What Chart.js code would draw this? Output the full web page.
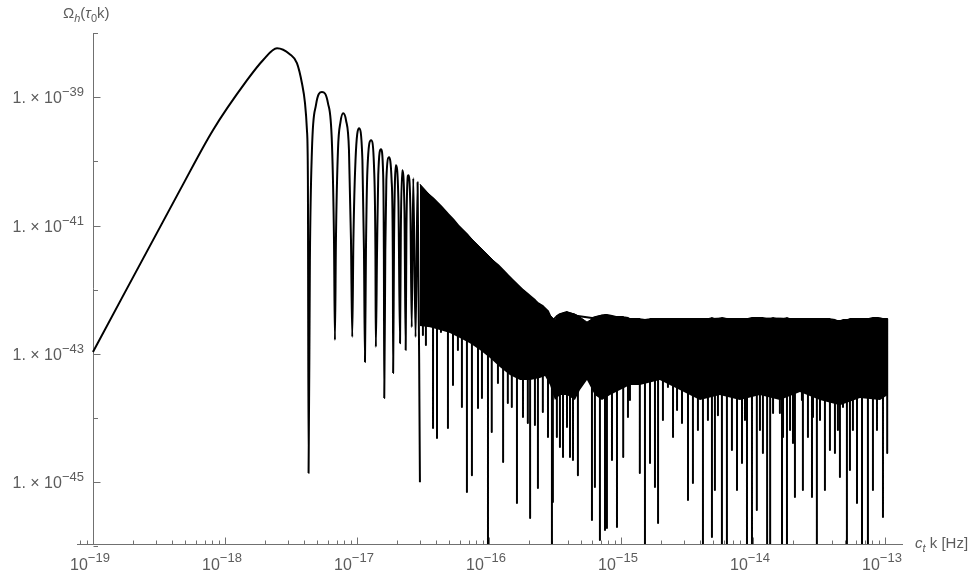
<!DOCTYPE html>
<html>
<head>
<meta charset="utf-8">
<script src="https://cdn.jsdelivr.net/npm/chart.js"></script>
<style>
  body { margin: 0; background: #fff; }
  canvas { display: block; }
</style>
</head>
<body>
<canvas id="graph" width="976" height="577"></canvas>
<script>
// resolved part of the curve: rise, main peak and the first lobes
const curveX = [1.0e-19, 4.56e-19, 8.11e-19, 1.47e-18, 1.94e-18, 2.48e-18, 3.10e-18, 3.51e-18, 3.83e-18, 4.04e-18, 4.18e-18, 4.25e-18, 4.30e-18,
  4.40e-18, 4.56e-18, 4.89e-18, 5.43e-18, 6.03e-18, 6.47e-18, 6.70e-18, 6.81e-18,
  6.93e-18, 7.18e-18, 7.50e-18, 7.87e-18, 8.26e-18, 8.70e-18, 9.01e-18, 9.21e-18,
  9.40e-18, 9.75e-18, 1.035e-17, 1.10e-17, 1.13e-17, 1.15e-17,
  1.17e-17, 1.20e-17, 1.28e-17, 1.35e-17, 1.38e-17, 1.39e-17,
  1.42e-17, 1.45e-17, 1.52e-17, 1.58e-17, 1.60e-17, 1.61e-17,
  1.64e-17, 1.67e-17, 1.75e-17, 1.83e-17, 1.87e-17, 1.88e-17,
  1.91e-17, 1.97e-17, 2.06e-17, 2.12e-17,
  2.15e-17, 2.20e-17, 2.29e-17, 2.34e-17,
  2.37e-17, 2.45e-17, 2.54e-17, 2.60e-17,
  2.67e-17, 2.78e-17, 2.88e-17, 3.00e-17];
const curveY = [1.07e-43, 3.56e-41, 3.06e-40, 1.84e-39, 3.77e-39, 5.79e-39, 4.68e-39, 3.39e-39, 1.65e-39, 8.07e-40, 3.06e-40, 5.10e-41, 1.39e-45,
  2.89e-42, 1.49e-40, 7.50e-40, 1.20e-39, 8.07e-40, 1.79e-40, 5.93e-42, 1.64e-43,
  5.93e-42, 1.49e-40, 4.08e-40, 5.63e-40, 4.38e-40, 1.49e-40, 5.93e-42, 1.83e-43,
  5.93e-42, 1.04e-40, 3.29e-40, 1.04e-40, 4.14e-42, 7.45e-44,
  4.14e-42, 7.29e-41, 2.14e-40, 7.29e-41, 4.14e-42, 1.28e-43,
  4.14e-42, 6.10e-41, 1.55e-40, 6.10e-41, 2.89e-42, 2.05e-44,
  4.14e-42, 5.10e-41, 1.16e-40, 5.10e-41, 2.89e-42, 5.02e-44,
  5.93e-42, 8.73e-41, 2.49e-41, 1.47e-43,
  8.48e-42, 7.29e-41, 1.74e-41, 1.15e-43,
  8.48e-42, 6.10e-41, 1.74e-41, 2.61e-43,
  5.47e-41, 1.83e-43, 4.74e-41, 1.0e-45];

// dense region: deep troughs (spikes), with the envelope value at each
const spikeX = [3.16e-17, 3.33e-17, 3.77e-17, 4.04e-17, 4.33e-17, 4.89e-17, 5.34e-17, 5.82e-17, 6.24e-17, 6.81e-17,
  7.43e-17, 8.26e-17, 8.85e-17, 9.83e-17, 1.05e-16, 1.17e-16, 1.28e-16, 1.39e-16, 1.49e-16, 1.63e-16,
  1.81e-16, 1.97e-16, 2.05e-16, 2.23e-16, 2.35e-16, 2.56e-16, 2.80e-16, 3.00e-16, 3.05e-16, 3.27e-16,
  3.45e-16, 3.64e-16, 3.90e-16, 4.11e-16, 4.33e-16, 4.72e-16, 6.03e-16, 6.35e-16, 6.93e-16, 7.57e-16,
  7.83e-16, 8.55e-16, 9.33e-16, 1.04e-15, 1.13e-15, 1.17e-15, 1.28e-15, 1.39e-15, 1.52e-15, 1.66e-15,
  1.81e-15, 1.91e-15, 2.08e-15, 2.27e-15, 2.48e-15, 2.66e-15, 2.90e-15, 3.22e-15, 3.51e-15, 3.83e-15,
  4.18e-15, 4.56e-15, 4.89e-15, 5.15e-15, 5.43e-15, 5.82e-15, 6.35e-15, 6.93e-15, 7.57e-15, 8.26e-15,
  8.70e-15, 9.01e-15, 9.83e-15, 1.07e-14, 1.13e-14, 1.19e-14, 1.28e-14, 1.35e-14, 1.42e-14, 1.52e-14,
  1.60e-14, 1.66e-14, 1.69e-14, 1.81e-14, 1.91e-14, 2.01e-14, 2.08e-14, 2.19e-14, 2.35e-14, 2.39e-14,
  2.61e-14, 2.80e-14, 2.85e-14, 3.05e-14, 3.22e-14, 3.51e-14, 3.70e-14, 3.83e-14, 4.18e-14, 4.40e-14,
  4.56e-14, 4.81e-14, 5.15e-14, 5.43e-14, 5.72e-14, 6.14e-14, 6.70e-14, 7.05e-14, 7.43e-14, 8.11e-14,
  8.70e-14, 8.85e-14, 9.66e-14, 1.04e-13];
const spikeTop = [3.69e-41, 3.31e-41, 2.67e-41, 2.31e-41, 2.00e-41, 1.51e-41, 1.26e-41, 1.01e-41, 8.79e-42, 7.35e-42,
  5.93e-42, 4.78e-42, 4.14e-42, 3.34e-42, 2.89e-42, 2.42e-42, 2.02e-42, 1.69e-42, 1.46e-42, 1.22e-42,
  9.86e-43, 8.54e-43, 7.95e-43, 6.89e-43, 6.18e-43, 5.55e-43, 4.64e-43, 3.36e-43, 3.36e-43, 3.88e-43,
  4.17e-43, 4.32e-43, 4.48e-43, 4.32e-43, 4.17e-43, 3.88e-43, 3.61e-43, 3.74e-43, 3.88e-43, 4.02e-43,
  4.02e-43, 3.88e-43, 3.74e-43, 3.74e-43, 3.61e-43, 3.48e-43, 3.48e-43, 3.48e-43, 3.36e-43, 3.48e-43,
  3.48e-43, 3.48e-43, 3.48e-43, 3.48e-43, 3.48e-43, 3.48e-43, 3.48e-43, 3.48e-43, 3.48e-43, 3.48e-43,
  3.48e-43, 3.48e-43, 3.61e-43, 3.48e-43, 3.48e-43, 3.61e-43, 3.48e-43, 3.48e-43, 3.48e-43, 3.48e-43,
  3.48e-43, 3.48e-43, 3.61e-43, 3.61e-43, 3.61e-43, 3.61e-43, 3.48e-43, 3.48e-43, 3.61e-43, 3.48e-43,
  3.48e-43, 3.48e-43, 3.48e-43, 3.61e-43, 3.48e-43, 3.48e-43, 3.48e-43, 3.48e-43, 3.48e-43, 3.48e-43,
  3.48e-43, 3.48e-43, 3.48e-43, 3.48e-43, 3.48e-43, 3.48e-43, 3.48e-43, 3.48e-43, 3.36e-43, 3.24e-43,
  3.24e-43, 3.36e-43, 3.36e-43, 3.48e-43, 3.48e-43, 3.48e-43, 3.48e-43, 3.48e-43, 3.48e-43, 3.61e-43,
  3.61e-43, 3.61e-43, 3.48e-43, 3.48e-43];
const spikeLow = [1.96e-43, 1.37e-43, 6.98e-45, 4.88e-45, 2.19e-43, 6.98e-45, 3.27e-44, 1.15e-43, 1.48e-44, 7.04e-46,
  1.29e-45, 1.43e-44, 2.05e-44, 1.0e-46, 6.05e-45, 3.51e-44, 2.06e-45, 1.71e-44, 1.48e-44, 4.74e-46,
  1.04e-44, 8.36e-45, 2.77e-46, 7.78e-45, 8.12e-46, 1.24e-44, 5.06e-45, 1.0e-46, 4.92e-46, 5.06e-45,
  3.53e-45, 2.47e-45, 7.24e-45, 2.47e-45, 2.22e-45, 1.29e-45, 2.58e-46, 8.42e-46, 1.26e-46, 1.80e-46,
  1.94e-46, 2.22e-45, 2.00e-46, 2.47e-45, 1.04e-44, 1.91e-44, 3.51e-44, 1.39e-45, 1.0e-46, 1.99e-45,
  8.42e-46, 2.31e-46, 9.31e-45, 3.04e-44, 5.06e-45, 1.33e-44, 8.36e-45, 5.28e-46, 9.72e-46, 6.50e-45,
  1.0e-46, 9.31e-45, 1.40e-46, 7.56e-46, 1.11e-44, 1.0e-46, 1.0e-46, 3.18e-45, 7.56e-46, 1.99e-45,
  9.31e-45, 1.0e-46, 1.0e-46, 3.69e-46, 6.50e-45, 2.85e-45, 1.0e-46, 1.0e-46, 1.20e-44, 2.73e-44,
  1.20e-44, 1.0e-46, 5.06e-45, 1.0e-46, 6.50e-45, 4.08e-45, 5.88e-46, 3.51e-44, 1.91e-44, 7.56e-46,
  5.06e-45, 5.88e-46, 1.04e-44, 1.0e-46, 9.31e-45, 7.56e-46, 2.73e-44, 3.18e-45, 2.85e-45, 6.50e-45,
  1.21e-45, 1.48e-44, 1.0e-46, 1.55e-45, 6.50e-45, 4.74e-46, 1.0e-46, 2.12e-44, 1.0e-46, 7.56e-46,
  6.50e-45, 2.73e-44, 2.87e-46, 2.85e-45];

// unresolved oscillations: solid band between upper envelope and its lower edge
const bandX = [3.00e-17, 3.57e-17, 4.25e-17, 5.06e-17, 6.03e-17, 7.18e-17, 8.55e-17, 1.02e-16, 1.21e-16, 1.44e-16,
  1.72e-16, 2.05e-16, 2.43e-16, 2.66e-16, 2.90e-16, 3.16e-16, 3.45e-16, 3.90e-16, 4.48e-16, 4.89e-16,
  5.53e-16, 6.35e-16, 7.18e-16, 8.26e-16, 9.83e-16, 1.17e-15, 1.39e-15, 1.97e-15, 2.80e-15, 3.97e-15,
  5.62e-15, 7.97e-15, 1.13e-14, 1.60e-14, 2.27e-14, 3.22e-14, 4.56e-14, 6.47e-14, 9.17e-14, 1.05e-13];
const bandTop = [4.42e-41, 2.98e-41, 2.08e-41, 1.40e-41, 9.44e-42, 6.59e-42, 4.61e-42, 3.22e-42, 2.25e-42, 1.57e-42,
  1.10e-42, 7.95e-43, 5.75e-43, 5.17e-43, 4.02e-43, 3.36e-43, 4.17e-43, 4.48e-43, 4.17e-43, 3.74e-43,
  3.13e-43, 3.74e-43, 4.02e-43, 3.88e-43, 3.74e-43, 3.48e-43, 3.36e-43, 3.48e-43, 3.48e-43, 3.48e-43,
  3.61e-43, 3.48e-43, 3.61e-43, 3.61e-43, 3.48e-43, 3.48e-43, 3.24e-43, 3.48e-43, 3.61e-43, 3.48e-43];
const bandLow = [2.71e-43, 2.61e-43, 2.35e-43, 2.11e-43, 1.76e-43, 1.47e-43, 1.15e-43, 8.60e-44, 6.23e-44, 4.67e-44,
  3.91e-44, 3.91e-44, 4.20e-44, 4.51e-44, 3.27e-44, 1.91e-44, 2.28e-44, 2.28e-44, 1.91e-44, 2.73e-44,
  3.91e-44, 2.28e-44, 1.91e-44, 2.28e-44, 2.73e-44, 3.27e-44, 3.27e-44, 3.91e-44, 2.73e-44, 1.91e-44,
  2.28e-44, 1.91e-44, 2.28e-44, 1.91e-44, 2.54e-44, 1.91e-44, 1.59e-44, 2.05e-44, 1.91e-44, 2.28e-44];

const xDecades = [1e-20, 1e-19, 1e-18, 1e-17, 1e-16, 1e-15, 1e-14, 1e-13];
const xLabelValues = [1e-19, 1e-18, 1e-17, 1e-16, 1e-15, 1e-14, 1e-13];
const xLabelExps = ['\u221219', '\u221218', '\u221217', '\u221216', '\u221215', '\u221214', '\u221213'];
const yLabelValues = [1e-39, 1e-41, 1e-43, 1e-45];
const yLabelExps = ['\u221239', '\u221241', '\u221243', '\u221245'];
const yMinorValues = [1e-38, 1e-40, 1e-42, 1e-44, 1e-46];

const axisColor = '#707070';
const textColor = '#5c5c5c';
const fontFam = '"Liberation Sans", Arial, sans-serif';

const curvePts = curveX.map((x, i) => ({x: x, y: curveY[i]}));
const spikePts = [];
spikeX.forEach((x, i) => {
  spikePts.push({x: x, y: spikeTop[i]});
  spikePts.push({x: x, y: spikeLow[i]});
  spikePts.push({x: x, y: spikeTop[i]});
});
const topPts = bandX.map((x, i) => ({x: x, y: bandTop[i]}));
const lowPts = bandX.map((x, i) => ({x: x, y: bandLow[i]}));

function drawRun(ctx, parts, x, y) {
  // parts: [text, size, italic, dy]
  parts.forEach(p => {
    ctx.font = (p[2] ? 'italic ' : '') + p[1] + 'px ' + fontFam;
    ctx.fillText(p[0], x, y + p[3]);
    x += ctx.measureText(p[0]).width;
  });
}
function runWidth(ctx, parts) {
  let w = 0;
  parts.forEach(p => {
    ctx.font = (p[2] ? 'italic ' : '') + p[1] + 'px ' + fontFam;
    w += ctx.measureText(p[0]).width;
  });
  return w;
}

const axesPlugin = {
  id: 'mmaAxes',
  beforeDatasetsDraw(chart) {
    const {ctx, chartArea, scales} = chart;
    const xs = scales.x, ys = scales.y;
    const ax = Math.round(xs.getPixelForValue(1e-19)) + 0.5;
    const ay = Math.round(chartArea.bottom) + 0.5;
    ctx.save();
    ctx.strokeStyle = axisColor;
    ctx.lineWidth = 1;
    ctx.beginPath();
    ctx.moveTo(chartArea.left, ay); ctx.lineTo(chartArea.right, ay);
    ctx.moveTo(ax, chartArea.top); ctx.lineTo(ax, ay);
    xDecades.forEach(d => {
      for (let m = 1; m <= 9; m++) {
        const v = d * m;
        if (v < xs.min || v > xs.max) continue;
        const px = Math.round(xs.getPixelForValue(v)) + 0.5;
        ctx.moveTo(px, ay); ctx.lineTo(px, ay - (m === 1 ? 7 : 4));
      }
    });
    yLabelValues.forEach(v => {
      const py = Math.round(ys.getPixelForValue(v)) + 0.5;
      ctx.moveTo(ax, py); ctx.lineTo(ax + 7, py);
    });
    yMinorValues.forEach(v => {
      const py = Math.round(ys.getPixelForValue(v)) + 0.5;
      ctx.moveTo(ax, py); ctx.lineTo(ax + 4.5, py);
    });
    ctx.stroke();
    ctx.restore();
  },
  afterDraw(chart) {
    const {ctx, chartArea, scales} = chart;
    const xs = scales.x, ys = scales.y;
    const ax = xs.getPixelForValue(1e-19);
    ctx.save();
    ctx.fillStyle = textColor;
    ctx.textBaseline = 'alphabetic';
    ctx.textAlign = 'left';
    yLabelValues.forEach((v, i) => {
      const py = ys.getPixelForValue(v);
      const parts = [['1. \u00d7 10', 16, false, 0], [yLabelExps[i], 13, false, -7]];
      const w = runWidth(ctx, parts) + 1;
      drawRun(ctx, parts, ax - 8 - w, py + 6);
    });
    xLabelValues.forEach((v, i) => {
      const px = xs.getPixelForValue(v);
      const parts = [['10', 16, false, 0], [xLabelExps[i], 13, false, -8]];
      const w = runWidth(ctx, parts);
      drawRun(ctx, parts, px - w / 2 - 3, 570);
    });
    // axis titles
    drawRun(ctx, [['\u03a9', 15, false, 0], ['h', 11, true, 4], ['(', 15, false, 0], ['\u03c4', 15, true, 0],
      ['0', 11, false, 4], ['k', 15, false, 0], [')', 15, false, 0]], 63, 18);
    drawRun(ctx, [['c', 15, true, 0], ['t', 11, true, 4], [' k [Hz]', 15, false, 0]], chartArea.right + 12, 548);
    ctx.restore();
  }
};

new Chart(document.getElementById('graph'), {
  type: 'line',
  data: {
    datasets: [
      {
        data: curvePts,
        borderColor: '#000',
        borderWidth: 2,
        borderJoinStyle: 'round',
        cubicInterpolationMode: 'monotone',
        pointRadius: 0,
        fill: false
      },
      {
        data: spikePts,
        borderColor: '#000',
        borderWidth: 2,
        borderJoinStyle: 'round',
        pointRadius: 0,
        fill: false,
        tension: 0
      },
      {
        data: topPts,
        borderColor: '#000',
        borderWidth: 1,
        backgroundColor: '#000',
        pointRadius: 0,
        fill: '+1',
        tension: 0
      },
      {
        data: lowPts,
        borderColor: 'rgba(0,0,0,0)',
        borderWidth: 1,
        pointRadius: 0,
        fill: false,
        tension: 0
      }
    ]
  },
  options: {
    responsive: false,
    devicePixelRatio: 1,
    animation: false,
    layout: { padding: { left: 77, right: 73, top: 33, bottom: 33 } },
    plugins: { legend: { display: false }, tooltip: { enabled: false } },
    scales: {
      x: { type: 'logarithmic', min: 7.57e-20, max: 1.37e-13, display: false },
      y: { type: 'logarithmic', min: 1.09e-46, max: 1e-38, display: false }
    }
  },
  plugins: [axesPlugin]
});
</script>
</body>
</html>
